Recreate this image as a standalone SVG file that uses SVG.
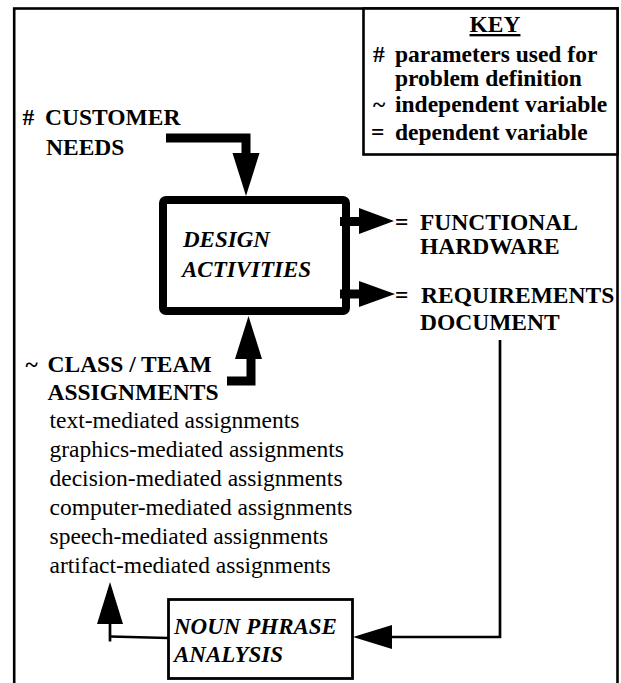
<svg xmlns="http://www.w3.org/2000/svg" width="621" height="683" viewBox="0 0 621 683" font-family="'Liberation Serif', 'DejaVu Serif', serif">
<style>
text { font-family: 'Liberation Serif', 'Tinos', 'DejaVu Serif', serif; fill: #000; }
.b { font-weight: bold; font-size: 23.5px; }
.k { font-weight: bold; font-size: 23.5px; }
.bi { font-weight: bold; font-style: italic; font-size: 23px; }
.r { font-size: 23.5px; }
.thin { fill: none; stroke: #000; stroke-width: 2.7; }
.thick { fill: none; stroke: #000; stroke-width: 9; stroke-linejoin: miter; stroke-linecap: butt; }
.head { fill: #000; stroke: none; }
</style>
<rect width="621" height="683" fill="#fff"/>
<g id="frame">
  <rect x="14.2" y="8.5" width="603.3" height="700" fill="none" stroke="#000" stroke-width="2.6"/>
</g>
<g id="key">
  <rect x="363.5" y="8.5" width="254" height="146" fill="#fff" stroke="#000" stroke-width="2.6"/>
  <text class="k" x="495" y="32" text-anchor="middle" text-decoration="underline">KEY</text>
  <text class="k" x="373" y="62">#</text>
  <text class="k" x="395" y="62">parameters used for</text>
  <text class="k" x="395" y="86">problem definition</text>
  <text class="k" x="373" y="112">~</text>
  <text class="k" x="395" y="112">independent variable</text>
  <text class="k" x="371" y="140">=</text>
  <text class="k" x="395" y="140">dependent variable</text>
</g>
<g id="customer-needs">
  <text class="b" x="22.5" y="124.5">#</text>
  <text class="b" x="45" y="124.5">CUSTOMER</text>
  <text class="b" x="46" y="155">NEEDS</text>
</g>
<g id="design-activities">
  <rect x="163" y="200" width="183" height="111" rx="3" fill="#fff" stroke="#000" stroke-width="8"/>
  <text class="bi" x="183" y="246.5">DESIGN</text>
  <text class="bi" x="182" y="276.5">ACTIVITIES</text>
</g>
<g id="functional-hardware">
  <text class="b" x="395" y="229.5">=</text>
  <text class="b" x="420" y="229.5">FUNCTIONAL</text>
  <text class="b" x="420" y="253.5">HARDWARE</text>
</g>
<g id="requirements-document">
  <text class="b" x="395" y="303">=</text>
  <text class="b" x="421" y="303">REQUIREMENTS</text>
  <text class="b" x="420" y="330">DOCUMENT</text>
</g>
<g id="class-team-assignments">
  <text class="b" x="25.5" y="372">~</text>
  <text class="b" x="47.5" y="372">CLASS / TEAM</text>
  <text class="b" x="47.5" y="400">ASSIGNMENTS</text>
  <text class="r" x="49.5" y="428">text-mediated assignments</text>
  <text class="r" x="49.5" y="457">graphics-mediated assignments</text>
  <text class="r" x="49.5" y="486">decision-mediated assignments</text>
  <text class="r" x="49.5" y="515">computer-mediated assignments</text>
  <text class="r" x="49.5" y="544">speech-mediated assignments</text>
  <text class="r" x="49.5" y="573">artifact-mediated assignments</text>
</g>
<g id="noun-phrase-analysis">
  <rect x="168.5" y="599.5" width="184" height="79" fill="#fff" stroke="#000" stroke-width="2.8"/>
  <text class="bi" x="174" y="634" font-size="23.5">NOUN PHRASE</text>
  <text class="bi" x="174" y="662" font-size="23.5">ANALYSIS</text>
</g>
<g id="connectors">
  <path class="thick" d="M166,138 H246 V155"/>
  <polygon class="head" points="232.5,153 259.5,153 246,196"/>
  <path class="thick" d="M340,221.5 H361"/>
  <polygon class="head" points="359,208 359,234 394,221"/>
  <path class="thick" d="M340,294 H361"/>
  <polygon class="head" points="359,281 359,307 395,294"/>
  <path class="thick" d="M227,381 H251 V357"/>
  <polygon class="head" points="235,359 262,359 248.5,316"/>
  <polyline class="thin" points="500,340 500,637 391,637"/>
  <polygon class="head" points="392,625 392,649 353,637"/>
  <line class="thin" x1="168" y1="638" x2="110" y2="636.5"/>
  <line class="thin" x1="110" y1="641.5" x2="110" y2="622"/>
  <polygon class="head" points="97,624 123,624 110,582"/>
</g>
</svg>
